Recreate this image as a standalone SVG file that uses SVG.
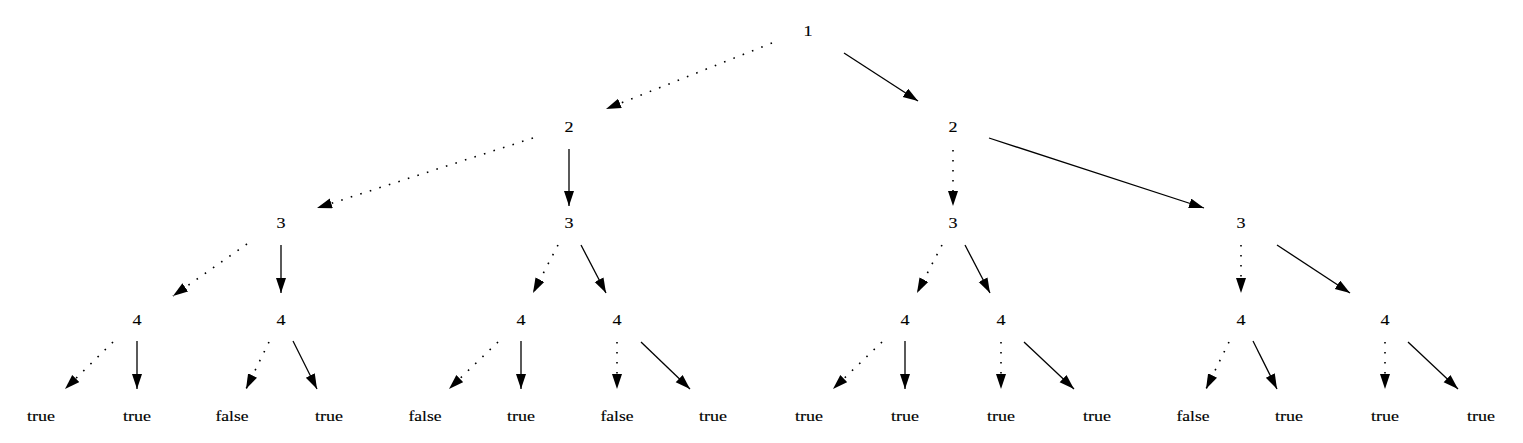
<svg xmlns="http://www.w3.org/2000/svg" width="1523" height="443" viewBox="0 0 1523 443">
<style>
.t text{font-size:15.5px;fill:#000;text-anchor:middle;stroke:#000;stroke-width:0.15}
.e{stroke:#000;stroke-width:1.3;fill:none;marker-end:url(#ah)}
.d{stroke-width:1.6;stroke-dasharray:1.6,8.4}
</style>
<defs>
<marker id="ah" markerUnits="userSpaceOnUse" markerWidth="16" markerHeight="12" refX="15" refY="5" orient="auto">
<path d="M0,0 L15,5 L0,10 Z" fill="#000"/>
</marker>
</defs>
<rect width="1523" height="443" fill="#fff"/>
<g id="connectors">
<line class="e d" x1="772" y1="43" x2="606" y2="109"/>
<line class="e" x1="844" y1="53" x2="918" y2="101"/>
<line class="e d" x1="533" y1="138" x2="317" y2="208"/>
<line class="e" x1="569" y1="149" x2="569" y2="206"/>
<line class="e d" x1="953" y1="150" x2="953" y2="206"/>
<line class="e" x1="989" y1="138" x2="1204" y2="208"/>
<line class="e d" x1="247" y1="244" x2="173" y2="296"/>
<line class="e" x1="281" y1="245" x2="281" y2="293"/>
<line class="e d" x1="558" y1="245" x2="533" y2="293"/>
<line class="e" x1="581" y1="245" x2="606" y2="293"/>
<line class="e d" x1="942" y1="245" x2="917" y2="293"/>
<line class="e" x1="965" y1="245" x2="990" y2="293"/>
<line class="e d" x1="1241" y1="245" x2="1241" y2="293"/>
<line class="e" x1="1277" y1="245" x2="1350" y2="293"/>
<line class="e d" x1="113" y1="342" x2="65" y2="389"/>
<line class="e" x1="137" y1="341" x2="137" y2="389"/>
<line class="e d" x1="269" y1="342" x2="246" y2="389"/>
<line class="e" x1="293" y1="341" x2="317" y2="389"/>
<line class="e d" x1="498" y1="342" x2="449" y2="389"/>
<line class="e" x1="521" y1="341" x2="521" y2="389"/>
<line class="e d" x1="617" y1="342" x2="617" y2="389"/>
<line class="e" x1="641" y1="342" x2="690" y2="389"/>
<line class="e d" x1="882" y1="342" x2="833" y2="389"/>
<line class="e" x1="905" y1="341" x2="905" y2="389"/>
<line class="e d" x1="1001" y1="342" x2="1001" y2="389"/>
<line class="e" x1="1024" y1="342" x2="1074" y2="389"/>
<line class="e d" x1="1229" y1="342" x2="1206" y2="389"/>
<line class="e" x1="1253" y1="341" x2="1277" y2="389"/>
<line class="e d" x1="1385" y1="342" x2="1385" y2="389"/>
<line class="e" x1="1408" y1="342" x2="1458" y2="389"/>
</g>
<g class="t" font-family="Liberation Serif, Times New Roman, serif">
<g id="n1"><text x="808" y="36" textLength="9" lengthAdjust="spacingAndGlyphs">1</text></g>
<g id="n2a"><text x="569" y="132" textLength="9" lengthAdjust="spacingAndGlyphs">2</text></g>
<g id="n2b"><text x="953" y="132" textLength="9" lengthAdjust="spacingAndGlyphs">2</text></g>
<g id="n3a"><text x="281" y="228" textLength="9" lengthAdjust="spacingAndGlyphs">3</text></g>
<g id="n3b"><text x="569" y="228" textLength="9" lengthAdjust="spacingAndGlyphs">3</text></g>
<g id="n3c"><text x="953" y="228" textLength="9" lengthAdjust="spacingAndGlyphs">3</text></g>
<g id="n3d"><text x="1241" y="228" textLength="9" lengthAdjust="spacingAndGlyphs">3</text></g>
<g id="n4a"><text x="137" y="325" textLength="9" lengthAdjust="spacingAndGlyphs">4</text></g>
<g id="n4b"><text x="281" y="325" textLength="9" lengthAdjust="spacingAndGlyphs">4</text></g>
<g id="n4c"><text x="521" y="325" textLength="9" lengthAdjust="spacingAndGlyphs">4</text></g>
<g id="n4d"><text x="617" y="325" textLength="9" lengthAdjust="spacingAndGlyphs">4</text></g>
<g id="n4e"><text x="905" y="325" textLength="9" lengthAdjust="spacingAndGlyphs">4</text></g>
<g id="n4f"><text x="1001" y="325" textLength="9" lengthAdjust="spacingAndGlyphs">4</text></g>
<g id="n4g"><text x="1241" y="325" textLength="9" lengthAdjust="spacingAndGlyphs">4</text></g>
<g id="n4h"><text x="1385" y="325" textLength="9" lengthAdjust="spacingAndGlyphs">4</text></g>
<g id="l1"><text x="41" y="421" textLength="28" lengthAdjust="spacingAndGlyphs">true</text></g>
<g id="l2"><text x="137" y="421" textLength="28" lengthAdjust="spacingAndGlyphs">true</text></g>
<g id="l3"><text x="232" y="421" textLength="33" lengthAdjust="spacingAndGlyphs">false</text></g>
<g id="l4"><text x="329" y="421" textLength="28" lengthAdjust="spacingAndGlyphs">true</text></g>
<g id="l5"><text x="425" y="421" textLength="33" lengthAdjust="spacingAndGlyphs">false</text></g>
<g id="l6"><text x="521" y="421" textLength="28" lengthAdjust="spacingAndGlyphs">true</text></g>
<g id="l7"><text x="617" y="421" textLength="33" lengthAdjust="spacingAndGlyphs">false</text></g>
<g id="l8"><text x="713" y="421" textLength="28" lengthAdjust="spacingAndGlyphs">true</text></g>
<g id="l9"><text x="809" y="421" textLength="28" lengthAdjust="spacingAndGlyphs">true</text></g>
<g id="l10"><text x="905" y="421" textLength="28" lengthAdjust="spacingAndGlyphs">true</text></g>
<g id="l11"><text x="1001" y="421" textLength="28" lengthAdjust="spacingAndGlyphs">true</text></g>
<g id="l12"><text x="1097" y="421" textLength="28" lengthAdjust="spacingAndGlyphs">true</text></g>
<g id="l13"><text x="1193" y="421" textLength="33" lengthAdjust="spacingAndGlyphs">false</text></g>
<g id="l14"><text x="1289" y="421" textLength="28" lengthAdjust="spacingAndGlyphs">true</text></g>
<g id="l15"><text x="1385" y="421" textLength="28" lengthAdjust="spacingAndGlyphs">true</text></g>
<g id="l16"><text x="1481" y="421" textLength="28" lengthAdjust="spacingAndGlyphs">true</text></g>
</g>
</svg>
